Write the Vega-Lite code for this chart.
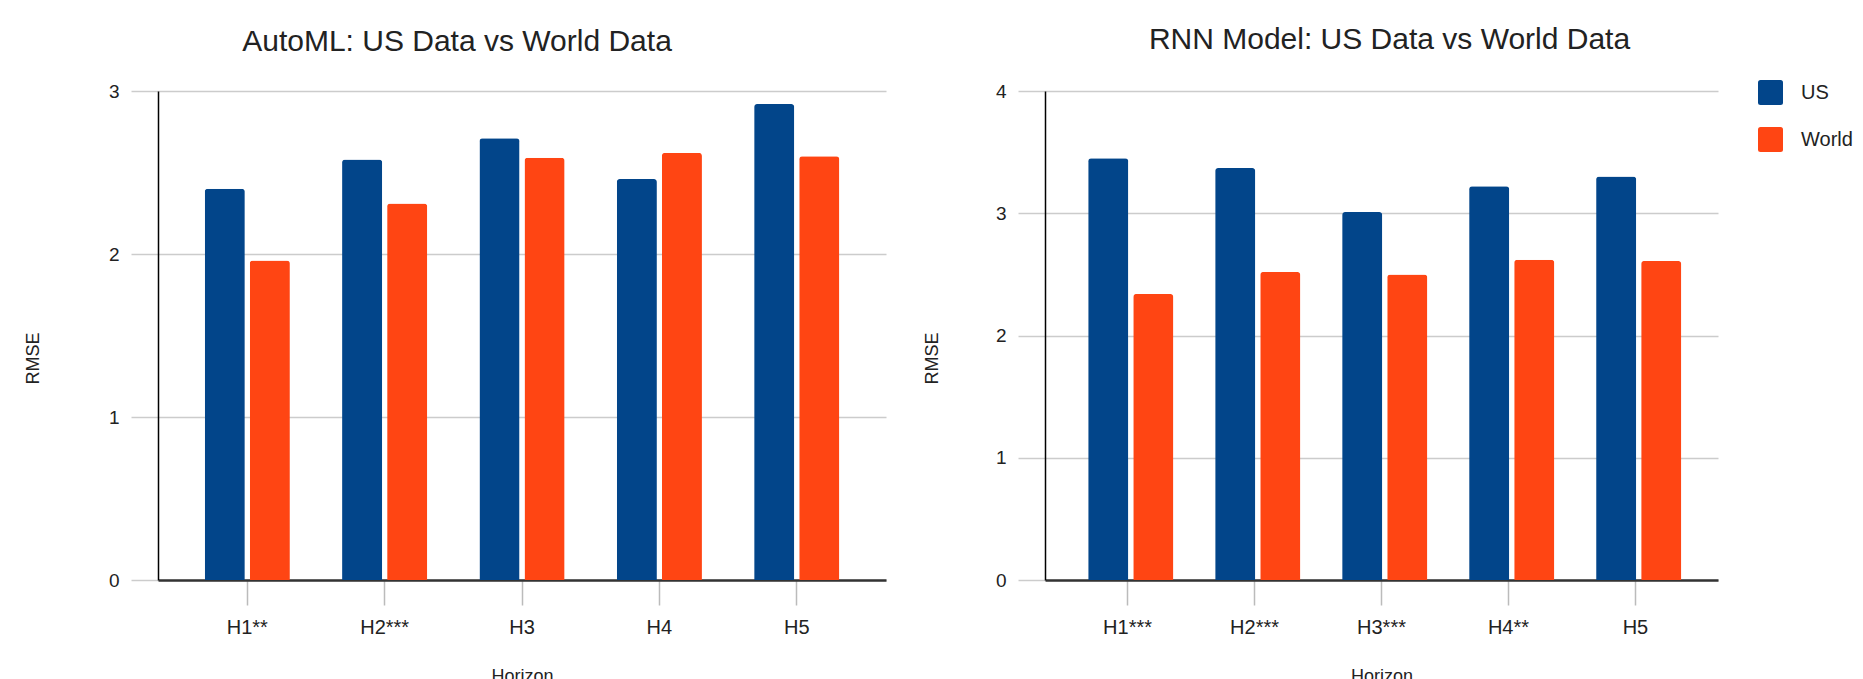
{
  "$schema": "https://vega.github.io/schema/vega-lite/v6.json",
  "autosize": {"type": "none"},
  "padding": {"left": 158, "top": 91, "right": 1705, "bottom": 588},
  "background": "white",
  "bounds": "flush",
  "spacing": 159,
  "datasets": {
    "automl": [
      {"horizon": "H1**", "region": "US", "rmse": 2.40},
      {"horizon": "H1**", "region": "World", "rmse": 1.96},
      {"horizon": "H2***", "region": "US", "rmse": 2.58},
      {"horizon": "H2***", "region": "World", "rmse": 2.31},
      {"horizon": "H3", "region": "US", "rmse": 2.71},
      {"horizon": "H3", "region": "World", "rmse": 2.59},
      {"horizon": "H4", "region": "US", "rmse": 2.46},
      {"horizon": "H4", "region": "World", "rmse": 2.62},
      {"horizon": "H5", "region": "US", "rmse": 2.92},
      {"horizon": "H5", "region": "World", "rmse": 2.60}
    ],
    "rnn": [
      {"horizon": "H1***", "region": "US", "rmse": 3.45},
      {"horizon": "H1***", "region": "World", "rmse": 2.34},
      {"horizon": "H2***", "region": "US", "rmse": 3.37},
      {"horizon": "H2***", "region": "World", "rmse": 2.52},
      {"horizon": "H3***", "region": "US", "rmse": 3.01},
      {"horizon": "H3***", "region": "World", "rmse": 2.50},
      {"horizon": "H4**", "region": "US", "rmse": 3.22},
      {"horizon": "H4**", "region": "World", "rmse": 2.62},
      {"horizon": "H5", "region": "US", "rmse": 3.30},
      {"horizon": "H5", "region": "World", "rmse": 2.61}
    ]
  },
  "resolve": {
    "scale": {"x": "independent", "y": "independent", "color": "independent"},
    "legend": {"color": "independent"}
  },
  "config": {
    "font": "Liberation Sans",
    "view": {"stroke": null},
    "title": {"font": "Liberation Sans", "fontSize": 30, "fontWeight": "normal", "color": "#222222", "anchor": "middle", "baseline": "alphabetic", "offset": 25},
    "axis": {"labelFont": "Liberation Sans", "titleFont": "Liberation Sans", "labelColor": "#222222", "titleColor": "#222222", "titleFontWeight": "normal", "gridColor": "#cccccc", "tickColor": "#cccccc"},
    "axisY": {"domainColor": "#000000", "domainWidth": 1.5, "gridWidth": 1.5, "tickWidth": 1.5, "tickSize": 27, "labelPadding": 12, "labelFontSize": 19, "titleFontSize": 18},
    "axisX": {"domainColor": "#333333", "domainWidth": 2.5, "tickColor": "#bbbbbb", "tickWidth": 1.5, "tickSize": 25, "labelPadding": 12, "labelFontSize": 20, "labelAngle": 0, "titleFontSize": 18, "titleY": 87, "titleBaseline": "top"}
  },
  "hconcat": [
    {
      "width": 728,
      "height": 489,
      "title": {"text": "AutoML: US Data vs World Data", "dx": -65},
      "data": {"name": "automl"},
      "mark": {"type": "bar", "cornerRadiusTopLeft": 3, "cornerRadiusTopRight": 3},
      "encoding": {
        "x": {"field": "horizon", "type": "nominal", "sort": null, "scale": {"paddingInner": 0.38, "paddingOuter": 0.34}, "axis": {"title": "Horizon"}},
        "xOffset": {"field": "region", "type": "nominal", "sort": ["US", "World"], "scale": {"paddingInner": 0.11, "paddingOuter": 0}},
        "y": {"field": "rmse", "type": "quantitative", "scale": {"domain": [0, 3], "nice": false}, "axis": {"values": [0, 1, 2, 3], "title": "RMSE", "titleX": -116, "titleY": 267}},
        "color": {"field": "region", "type": "nominal", "scale": {"domain": ["US", "World"], "range": ["#02458a", "#ff4513"]}, "legend": null}
      }
    },
    {
      "width": 673,
      "height": 489,
      "title": {"text": "RNN Model: US Data vs World Data", "dx": 8},
      "data": {"name": "rnn"},
      "mark": {"type": "bar", "cornerRadiusTopLeft": 3, "cornerRadiusTopRight": 3},
      "encoding": {
        "x": {"field": "horizon", "type": "nominal", "sort": null, "scale": {"paddingInner": 0.38, "paddingOuter": 0.34}, "axis": {"title": "Horizon"}},
        "xOffset": {"field": "region", "type": "nominal", "sort": ["US", "World"], "scale": {"paddingInner": 0.11, "paddingOuter": 0}},
        "y": {"field": "rmse", "type": "quantitative", "scale": {"domain": [0, 4], "nice": false}, "axis": {"values": [0, 1, 2, 3, 4], "title": "RMSE", "titleX": -104, "titleY": 267}},
        "color": {"field": "region", "type": "nominal", "scale": {"domain": ["US", "World"], "range": ["#02458a", "#ff4513"]}, "legend": {"orient": "none", "legendX": 713, "legendY": -11, "title": null, "padding": 0, "symbolType": "M-1,-0.8Q-1,-1,-0.8,-1L0.8,-1Q1,-1,1,-0.8L1,0.8Q1,1,0.8,1L-0.8,1Q-1,1,-1,0.8Z", "symbolSize": 625, "symbolStrokeWidth": 0, "symbolOpacity": 1, "labelFont": "Liberation Sans", "labelFontSize": 20, "labelColor": "#222222", "labelOffset": 18, "rowPadding": 22}}
      }
    }
  ]
}
